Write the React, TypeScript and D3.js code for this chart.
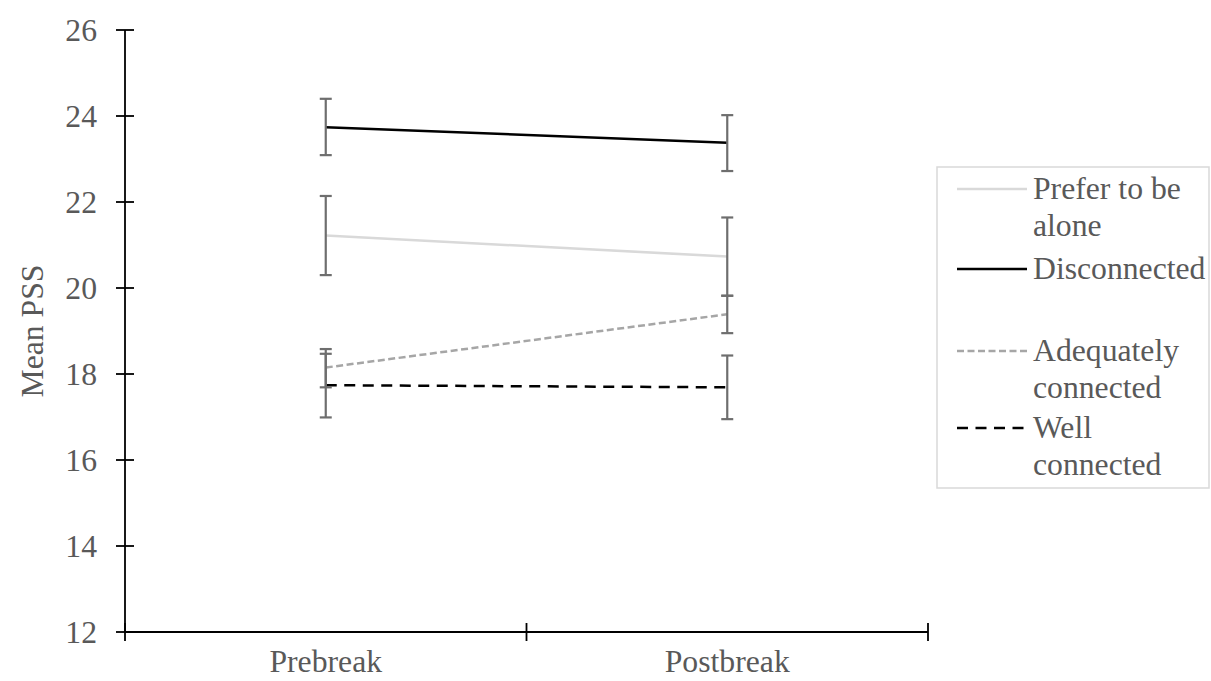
import React from 'react';
import * as d3 from 'd3';

const WIDTH = 1211;
const HEIGHT = 681;

const MARGIN = { top: 30, right: 283, bottom: 49, left: 125 };

const periods = ['Prebreak', 'Postbreak'];
const yTicks = [12, 14, 16, 18, 20, 22, 24, 26];

const seriesNames = ['Prefer to be alone', 'Disconnected', 'Adequately connected', 'Well connected'];
const legendLines = [['Prefer to be', 'alone'], ['Disconnected'], ['Adequately', 'connected'], ['Well', 'connected']];
const means = [
  [21.22, 20.73],
  [23.74, 23.38],
  [18.15, 19.39],
  [17.74, 17.69],
];
const lows = [
  [20.3, 19.82],
  [23.09, 22.72],
  [17.69, 18.95],
  [16.99, 16.95],
];
const highs = [
  [22.14, 21.64],
  [24.4, 24.02],
  [18.58, 19.82],
  [18.47, 18.43],
];

const STYLES = [
  { color: '#d9d9d9', dash: null },
  { color: '#000000', dash: null },
  { color: '#a6a6a6', dash: '7,3.5' },
  { color: '#000000', dash: '11,7.5' },
];

const FONT = "'Liberation Serif', 'DejaVu Serif', serif";
const FONT_SIZE = 31.7;
const TEXT = '#595959';

export default function App() {
  const x = d3.scaleBand()
    .domain(periods)
    .range([MARGIN.left, WIDTH - MARGIN.right]);

  const y = d3.scaleLinear()
    .domain([12, 26])
    .range([HEIGHT - MARGIN.bottom, MARGIN.top]);

  const cx = (p: string) => (x(p) as number) + x.bandwidth() / 2;

  const line = d3.line<number>()
    .x((d, i) => cx(periods[i]))
    .y(d => y(d));

  const x0 = MARGIN.left;
  const x1 = WIDTH - MARGIN.right;
  const yBase = y(12);
  const xBoundaries = [x0, ...periods.map(p => (x(p) as number) + x.bandwidth())];

  const legend = { x: 937, y: 167, w: 272, h: 321 };
  const legendRows = [
    { lineY: 189, textY: [199, 236] },
    { lineY: 269, textY: [279] },
    { lineY: 351, textY: [361, 398] },
    { lineY: 428, textY: [438, 475] },
  ];

  return (
    <svg width={WIDTH} height={HEIGHT} style={{ position: 'absolute', left: 0, top: 0, fontFamily: FONT }}>
      <rect width={WIDTH} height={HEIGHT} fill="#fff" />

      {/* axes */}
      <line x1={x0} x2={x0} y1={y(26)} y2={yBase} stroke="#000" strokeWidth={1.8} />
      <line x1={x0} x2={x1} y1={yBase} y2={yBase} stroke="#000" strokeWidth={1.8} />
      {yTicks.map(t => (
        <g key={t}>
          <line x1={x0 - 9} x2={x0 + 9} y1={y(t)} y2={y(t)} stroke="#000" strokeWidth={1.8} />
          <text x={97} y={y(t)} dy="0.35em" textAnchor="end" fontSize={FONT_SIZE} fill={TEXT}>{t}</text>
        </g>
      ))}
      {xBoundaries.map((b, i) => (
        <line key={i} x1={b} x2={b} y1={yBase - 9} y2={yBase + 9} stroke="#000" strokeWidth={1.8} />
      ))}
      {periods.map(p => (
        <text key={p} x={cx(p)} y={672} textAnchor="middle" fontSize={FONT_SIZE} fill={TEXT}>{p}</text>
      ))}
      <text transform={`translate(43, ${y(19)}) rotate(-90)`} textAnchor="middle" fontSize={FONT_SIZE} fill={TEXT}>Mean PSS</text>

      {/* lines */}
      {seriesNames.map((name, s) => (
        <path key={name} d={line(means[s]) as string} fill="none"
          stroke={STYLES[s].color} strokeWidth={2.5}
          strokeDasharray={STYLES[s].dash ?? undefined} />
      ))}

      {/* error bars */}
      {seriesNames.map((name, s) => periods.map((p, i) => {
        const px = cx(p);
        return (
          <g key={name + p} stroke="#6e6e6e" strokeWidth={2.2}>
            <line x1={px} x2={px} y1={y(lows[s][i])} y2={y(highs[s][i])} />
            <line x1={px - 6} x2={px + 6} y1={y(lows[s][i])} y2={y(lows[s][i])} />
            <line x1={px - 6} x2={px + 6} y1={y(highs[s][i])} y2={y(highs[s][i])} />
          </g>
        );
      }))}

      {/* legend */}
      <rect x={legend.x} y={legend.y} width={legend.w} height={legend.h} fill="#fff" stroke="#d9d9d9" strokeWidth={1.5} />
      {seriesNames.map((name, s) => (
        <g key={name}>
          <line x1={957} x2={1027} y1={legendRows[s].lineY} y2={legendRows[s].lineY}
            stroke={STYLES[s].color} strokeWidth={2.5}
            strokeDasharray={STYLES[s].dash ?? undefined} />
          {legendLines[s].map((t, k) => (
            <text key={k} x={1033} y={legendRows[s].textY[k]} fontSize={FONT_SIZE} fill={TEXT}>{t}</text>
          ))}
        </g>
      ))}
    </svg>
  );
}
